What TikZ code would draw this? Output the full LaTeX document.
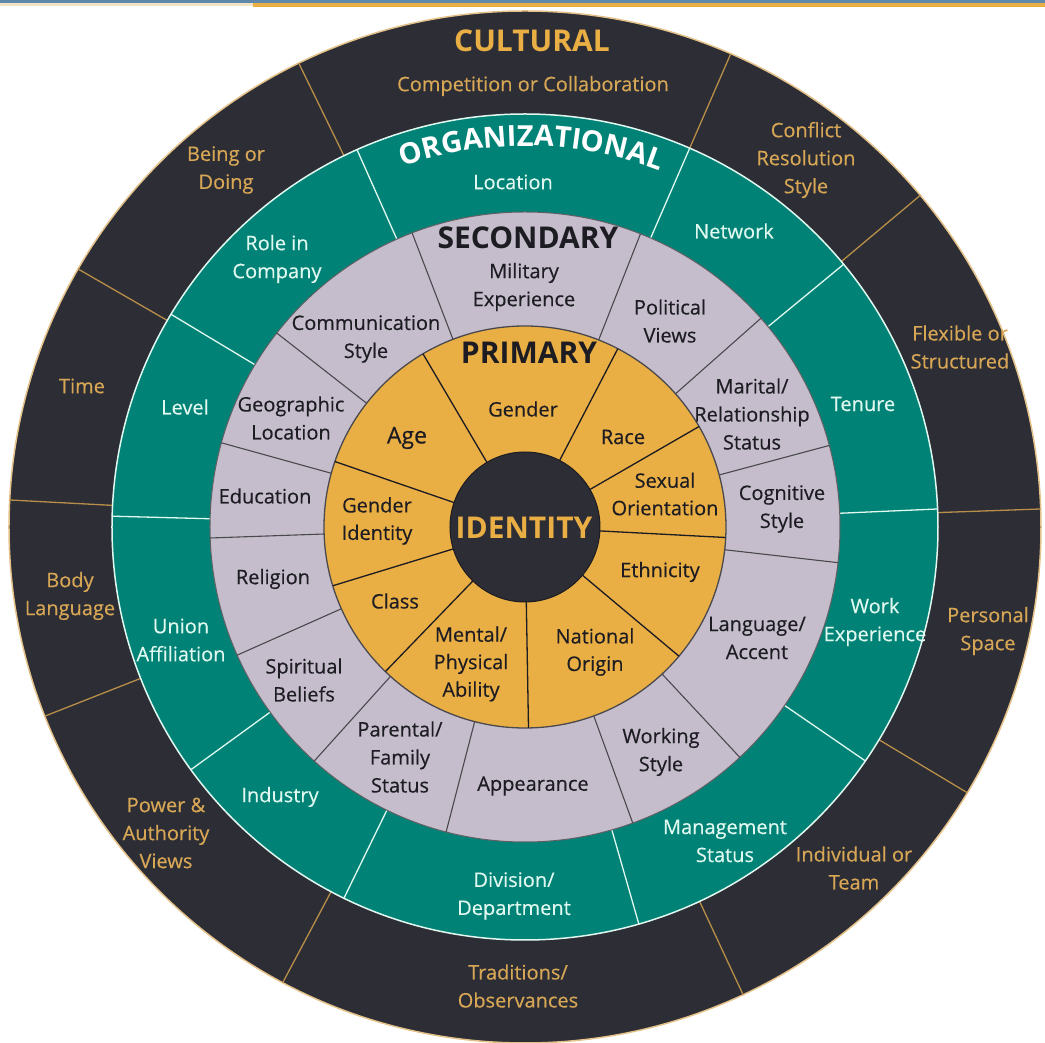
\documentclass[tikz,border=0pt]{standalone}
\usepackage{fontspec}
\setmainfont{Open Sans}
\newfontfamily\ringfont{Open Sans}[FakeBold=0.35]
\usetikzlibrary{decorations.text}

\definecolor{ringdark}{RGB}{44,45,53}
\definecolor{ringteal}{RGB}{0,131,118}
\definecolor{ringlilac}{RGB}{197,189,203}
\definecolor{ringgold}{RGB}{233,174,68}
\definecolor{goldtext}{RGB}{216,167,86}
\definecolor{minttext}{RGB}{224,248,239}
\definecolor{inktext}{RGB}{28,28,34}
\definecolor{barblue}{RGB}{96,136,170}
\definecolor{barbeige}{RGB}{243,226,196}

\begin{document}
\begin{tikzpicture}[
		x=1pt, y=1pt,
		cultlabel/.style={text=goldtext, align=center, inner sep=0pt, font=\ringfont\fontsize{20}{28}\selectfont},
		orglabel/.style={text=minttext, align=center, inner sep=0pt, font=\ringfont\fontsize{20}{28}\selectfont},
		seclabel/.style={text=inktext, align=center, inner sep=0pt, font=\ringfont\fontsize{20}{28}\selectfont},
		primlabel/.style={text=inktext, align=center, inner sep=0pt, font=\ringfont\fontsize{20}{27.5}\selectfont},
		ringtitle/.style={inner sep=0pt, font=\bfseries\fontsize{30}{30}\selectfont},
		cultline/.style={draw=goldtext!85!black, line width=1.3pt},
		orgline/.style={draw=minttext, line width=1.3pt},
		secline/.style={draw=inktext!80, line width=1.1pt},
		primline/.style={draw=inktext, line width=1.3pt}
		]

		\useasboundingbox (-525,-516) rectangle (520,527);

		% header strip
		\fill[barblue] (-525,523.5) rectangle (520,527);
		\fill[barbeige] (-525,520.5) rectangle (-272,523.5);
		\fill[ringgold] (-272,519.5) rectangle (520,523.5);

		% rings, outside in
		\filldraw[fill=ringdark, draw=goldtext!70, line width=1.5pt] (0,0) circle[radius=516];
		\foreach \a in {116,66.5,40,2,-31,-65,-118,201.5,177,150}
			\draw[cultline] (\a:413) -- (\a:516);

		\filldraw[fill=ringteal, draw=minttext, line width=1.5pt] (0,0) circle[radius=413];
		\foreach \a in {114,66.5,39.5,2.5,-34.5,-74,-116,216,178.5,149}
			\draw[orgline] (\a:315) -- (\a:413);

		\filldraw[fill=ringlilac, draw=inktext!70, line width=1pt] (0,0) circle[radius=315];
		\foreach \a in {111,68.5,41.5,15,-6.5,-47,-70,-104.5,228,204,182,164.5,142}
			\draw[secline] (\a:201) -- (\a:315);

		\filldraw[fill=ringgold, draw=inktext!80, line width=1.3pt] (0,0) circle[radius=201];
		\foreach \a in {120.5,62.5,30,-3,-40,-89,226,197,161}
			\draw[primline] (\a:75) -- (\a:201);

		\filldraw[fill=ringdark, draw=inktext, line width=1pt] (0,0) circle[radius=75];

		% cultural ring
		\node[ringtitle, text=ringgold] (cultural) at (7,486) {CULTURAL};
		\node[cultlabel] (compete) at (8,441) {Competition or Collaboration};
		\node[cultlabel] (conflict) at (281,367) {Conflict\\Resolution\\Style};
		\node[cultlabel] (flexible) at (435,180) {Flexible or\\Structured};
		\node[cultlabel] (space) at (463,-104) {Personal\\Space};
		\node[cultlabel] (team) at (329,-341) {Individual or\\Team};
		\node[cultlabel] (tradition) at (-7,-459) {Traditions/\\Observances};
		\node[cultlabel] (power) at (-359,-306) {Power \&\\Authority\\Views};
		\node[cultlabel] (body) at (-455,-69) {Body\\Language};
		\node[cultlabel] (time) at (-443,141) {Time};
		\node[cultlabel] (being) at (-299,357) {Being or\\Doing};

		% organizational ring
		\path[decorate, decoration={text along path, text align=center,
			text={|\bfseries\fontsize{29}{29}\selectfont\color{white}|ORGANIZATIONAL}}]
			(124:381) arc[start angle=124, end angle=54, radius=381];
		\node[orglabel] (location) at (-12,345) {Location};
		\node[orglabel] (network) at (209,296) {Network};
		\node[orglabel] (tenure) at (338,123) {Tenure};
		\node[orglabel] (workexp) at (350,-95) {Work\\Experience};
		\node[orglabel] (mgmt) at (200,-314) {Management\\Status};
		\node[orglabel] (division) at (-11,-369) {Division/\\Department};
		\node[orglabel] (industry) at (-245,-270) {Industry};
		\node[orglabel] (union) at (-344,-113) {Union\\Affiliation};
		\node[orglabel] (level) at (-340,120) {Level};
		\node[orglabel] (role) at (-248,268) {Role in\\Company};

		% secondary ring
		\node[ringtitle, text=inktext] (secondary) at (3,289) {SECONDARY};
		\node[seclabel] (military) at (-1,240) {Military\\Experience};
		\node[seclabel] (political) at (145,206) {Political\\Views};
		\node[seclabel] (marital) at (227,113) {Marital/\\Relationship\\Status};
		\node[seclabel] (cognitive) at (257,18) {Cognitive\\Style};
		\node[seclabel] (language) at (232,-111) {Language/\\Accent};
		\node[seclabel] (working) at (136,-225) {Working\\Style};
		\node[seclabel] (appearance) at (8,-259) {Appearance};
		\node[seclabel] (parental) at (-125,-230) {Parental/\\Family\\Status};
		\node[seclabel] (spiritual) at (-221,-153) {Spiritual\\Beliefs};
		\node[seclabel] (religion) at (-252,-52) {Religion};
		\node[seclabel] (education) at (-260,31) {Education};
		\node[seclabel] (geo) at (-234,109) {Geographic\\Location};
		\node[seclabel] (comm) at (-159,188) {Communication\\Style};

		% primary ring
		\node[ringtitle, text=inktext] (primary) at (4,174) {PRIMARY};
		\node[primlabel] (gender) at (-2,118) {Gender};
		\node[primlabel, font=\ringfont\fontsize{23}{27.5}\selectfont] (age) at (-118,89) {Age};
		\node[primlabel] (race) at (98,90) {Race};
		\node[primlabel] (sexual) at (140,33) {Sexual\\Orientation};
		\node[primlabel] (genderid) at (-148,6) {Gender\\Identity};
		\node[primlabel] (ethnicity) at (135,-45) {Ethnicity};
		\node[primlabel] (class) at (-130,-74) {Class};
		\node[primlabel] (ability) at (-54,-137) {Mental/\\Physical\\Ability};
		\node[primlabel] (origin) at (70,-125) {National\\Origin};

		\node[ringtitle, text=ringgold] (identity) at (-1,-1) {IDENTITY};
	\end{tikzpicture}
\end{document}
